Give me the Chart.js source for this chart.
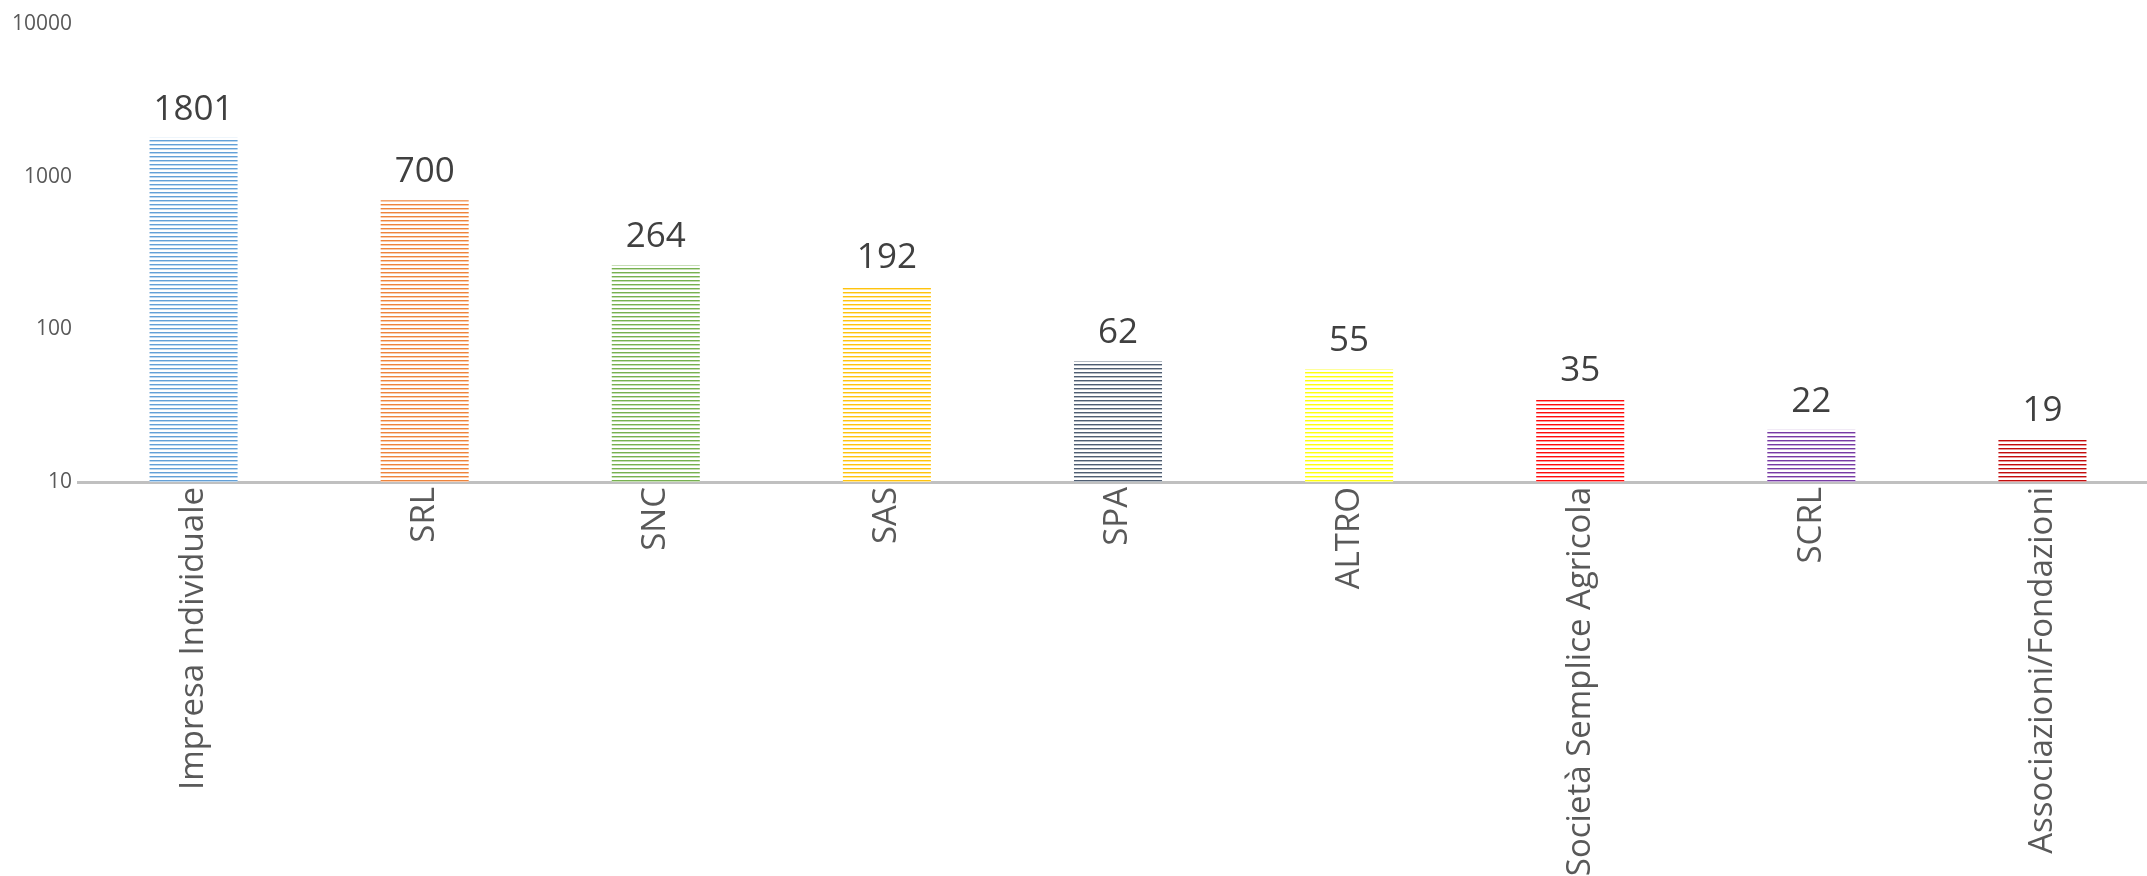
<!DOCTYPE html>
<html>
<head>
<meta charset="utf-8">
<script src="https://cdn.jsdelivr.net/npm/chart.js@4"></script>
<style>
  html, body { margin: 0; padding: 0; background: #fff; overflow: hidden; }
  #wrap { width: 2158px; height: 876px; }
</style>
</head>
<body>
<div id="wrap"><canvas id="chart"></canvas></div>
<script>
/* ── data ─────────────────────────────────────────────────────────── */
const CATEGORIES = ['Impresa Individuale', 'SRL', 'SNC', 'SAS', 'SPA', 'ALTRO',
                    'Società Semplice Agricola', 'SCRL', 'Associazioni/Fondazioni'];
const VALUES     = [1801, 700, 264, 192, 62, 55, 35, 22, 19];
const Y_TICKS    = [10, 100, 1000, 10000];

const COLORS = ['#5B9BD5', '#ED7D31', '#70AD47', '#FFC000', '#44546A',
                '#FFFF00', '#FF0000', '#7030A0', '#C00000'];

// Excel-like "narrow horizontal" stripe fill
function stripe(color) {
  const c = document.createElement('canvas');
  c.width = 4; c.height = 4;
  const x = c.getContext('2d');
  x.fillStyle = '#ffffff';
  x.fillRect(0, 0, 4, 4);
  x.fillStyle = color;
  x.globalAlpha = 0.95;
  x.fillRect(0, 0, 4, 1);
  x.globalAlpha = 0.4;
  x.fillRect(0, 1, 4, 1);
  return x.createPattern(c, 'repeat');
}

const valueLabels = {
  id: 'valueLabels',
  afterDatasetsDraw(chart) {
    const { ctx } = chart;
    const meta = chart.getDatasetMeta(0);
    ctx.save();
    ctx.font = '35px "Open Sans"';
    ctx.fillStyle = '#404040';
    ctx.textAlign = 'center';
    ctx.textBaseline = 'alphabetic';
    meta.data.forEach((bar, i) => {
      ctx.fillText(String(VALUES[i]), bar.x, bar.y - 18);
    });
    ctx.restore();
  },
};

new Chart(document.getElementById('chart'), {
  type: 'bar',
  data: {
    labels: CATEGORIES,
    datasets: [{
      data: VALUES,
      backgroundColor: COLORS.map(stripe),
      borderWidth: 0,
      barPercentage: 0.381,
      categoryPercentage: 1,
    }],
  },
  options: {
    responsive: true,
    maintainAspectRatio: false,
    animation: false,
    layout: { padding: { top: 24, left: 0, right: 0, bottom: 0 } },
    plugins: { legend: { display: false }, tooltip: { enabled: false } },
    scales: {
      x: {
        grid: { display: false },
        border: { color: '#c0c0c0', width: 3 },
        ticks: {
          color: '#595959',
          font: { family: 'Open Sans', size: 33 },
          minRotation: 90, maxRotation: 90,
          padding: -3,
          autoSkip: false,
        },
        afterFit: s => { s.height = 394; },
      },
      y: {
        type: 'logarithmic',
        min: 10, max: 10000,
        grid: { display: false },
        border: { display: false },
        ticks: {
          color: '#595959',
          font: { family: 'Open Sans', size: 21 },
          padding: -2,
          callback: v => String(v),
        },
        afterBuildTicks: s => { s.ticks = Y_TICKS.map(v => ({ value: v })); },
        afterFit: s => { s.width = 78; },
      },
    },
  },
  plugins: [valueLabels],
});
</script>
</body>
</html>
